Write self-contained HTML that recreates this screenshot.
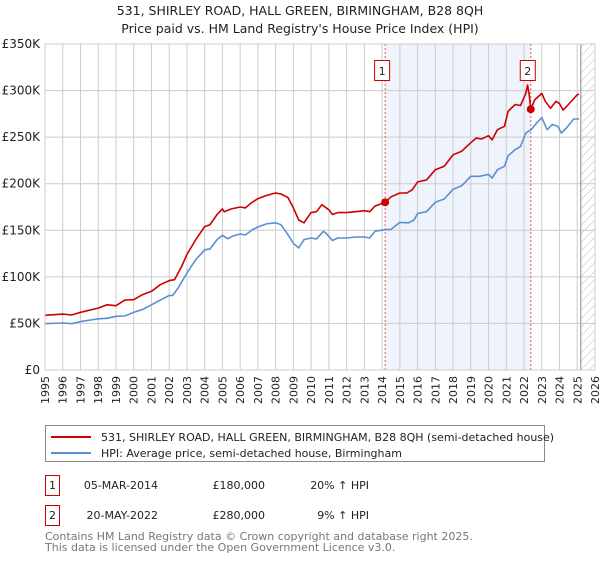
<!DOCTYPE html>
<html><head><meta charset="utf-8"><style>
body{margin:0;background:#fff;font-family:"Liberation Sans","DejaVu Sans",sans-serif;}
svg text{font-family:"DejaVu Sans","Liberation Sans",sans-serif;}
</style></head><body>
<svg id="chart" width="600" height="560" xmlns="http://www.w3.org/2000/svg">
<defs><pattern id="hatch" width="6" height="6" patternUnits="userSpaceOnUse" patternTransform="rotate(45)"><line x1="0" y1="0" x2="0" y2="6" stroke="#bbb" stroke-width="1"/></pattern></defs>
<text x="300" y="15" text-anchor="middle" font-size="12.5" fill="#222">531, SHIRLEY ROAD, HALL GREEN, BIRMINGHAM, B28 8QH</text>
<text x="300" y="33" text-anchor="middle" font-size="12.5" fill="#222">Price paid vs. HM Land Registry's House Price Index (HPI)</text>
<g id="plot"></g>
<g>
<rect x="45.5" y="425.5" width="499" height="36" fill="#fff" stroke="#888"/>
<line x1="51" y1="437" x2="91" y2="437" stroke="#cc0000" stroke-width="2"/>
<text x="101" y="441" font-size="11" fill="#222">531, SHIRLEY ROAD, HALL GREEN, BIRMINGHAM, B28 8QH (semi-detached house)</text>
<line x1="51" y1="453" x2="91" y2="453" stroke="#5b8fd4" stroke-width="2"/>
<text x="101" y="457" font-size="11" fill="#222">HPI: Average price, semi-detached house, Birmingham</text>
</g>
<g font-size="11" fill="#222">
<rect x="45.5" y="475.5" width="14" height="20" fill="#fff" stroke="#cc0000"/>
<text x="52.5" y="489" text-anchor="middle">1</text>
<text x="158" y="489" text-anchor="end">05-MAR-2014</text>
<text x="265" y="489" text-anchor="end">£180,000</text>
<text x="369" y="489" text-anchor="end">20% ↑ HPI</text>
</g>
<g font-size="11" fill="#222">
<rect x="45.5" y="505.5" width="14" height="20" fill="#fff" stroke="#cc0000"/>
<text x="52.5" y="519" text-anchor="middle">2</text>
<text x="158" y="519" text-anchor="end">20-MAY-2022</text>
<text x="265" y="519" text-anchor="end">£280,000</text>
<text x="369" y="519" text-anchor="end">9% ↑ HPI</text>
</g>
<text x="45" y="540" font-size="11" fill="#777">Contains HM Land Registry data © Crown copyright and database right 2025.</text>
<text x="45" y="551" font-size="11" fill="#777">This data is licensed under the Open Government Licence v3.0.</text>
</svg>
<script>
const yTicks=[0,50,100,150,200,250,300,350];
const yTickLabels=["£0","£50K","£100K","£150K","£200K","£250K","£300K","£350K"];
const xYears=[1995,1996,1997,1998,1999,2000,2001,2002,2003,2004,2005,2006,2007,2008,2009,2010,2011,2012,2013,2014,2015,2016,2017,2018,2019,2020,2021,2022,2023,2024,2025,2026];
const propT=[1995,1996,1996.5,1997,1998,1998.5,1999,1999.5,2000,2000.5,2001,2001.5,2002,2002.3,2002.7,2003,2003.5,2004,2004.3,2004.7,2005,2005.1,2005.5,2006,2006.3,2006.6,2007,2007.5,2008,2008.3,2008.7,2009,2009.3,2009.6,2010,2010.3,2010.6,2011,2011.2,2011.5,2012,2012.5,2013,2013.3,2013.6,2014.17,2014.5,2015,2015.4,2015.7,2016,2016.5,2017,2017.5,2018,2018.5,2019,2019.3,2019.6,2020,2020.2,2020.5,2020.9,2021.1,2021.5,2021.8,2022.1,2022.2,2022.3,2022.38,2022.6,2023,2023.2,2023.5,2023.8,2024,2024.2,2024.5,2025,2025.1];
const propV=[58.7,60,59,62,66.5,70,69,75,75.5,81,84.5,91.6,96,97,111,124,140,154,156,167,173,170,173,175,174,179,184,187.5,190,189,185,174,161,158,169,170,177.5,172,167,169,169,170,171,170,176,180,186,190,190,193.6,202,204,215,218.7,231,235,244,249,248,251.6,247,258,261.6,277.7,285,284,297,306,294,280,290,297,288.5,281,288.5,286,279,285,295.6,296];
const hpiT=[1995,1996,1996.5,1997,1998,1998.5,1999,1999.5,2000,2000.5,2001,2001.5,2002,2002.2,2002.5,2003,2003.5,2004,2004.3,2004.7,2005,2005.3,2005.6,2006,2006.3,2006.7,2007,2007.5,2008,2008.3,2008.7,2009,2009.3,2009.6,2010,2010.3,2010.7,2011,2011.2,2011.5,2012,2012.5,2013,2013.3,2013.6,2014.2,2014.5,2015,2015.5,2015.8,2016,2016.5,2017,2017.5,2018,2018.5,2019,2019.5,2020,2020.2,2020.5,2020.9,2021.1,2021.5,2021.8,2022.1,2022.4,2022.7,2023,2023.3,2023.6,2023.9,2024.1,2024.4,2024.8,2025.1];
const hpiV=[49.7,50.5,49.7,52,55,55.5,57.6,58,62,65,70,75,80,80,88,104,118.5,129,130,140,144.6,141,144,146,145,150.7,153.5,157,158,156,145,136,131,140,141.7,140.7,149,143.5,139,141.7,141.7,142.8,142.8,141.7,149,150.7,151,158.5,158,161,168,170,180,183.6,194,198,208,208,210,206,215,218.7,230,236.6,240,254.5,258,265,271,258,263.6,261.6,254.5,260,269.5,269.5];
const saleT=[2014.17,2022.38];
const saleV=[180,280];
const saleLabels=["1","2"];
const x0=45,x1=595,y0=370,y1=44;
const X=t=>x0+(t-1995)*(x1-x0)/31;
const Y=v=>y0-v*(y0-y1)/350;
const NS="http://www.w3.org/2000/svg";
const g=document.getElementById('plot');
function mk(tag,attrs,parent){const e=document.createElementNS(NS,tag);for(const k in attrs)e.setAttribute(k,attrs[k]);(parent||g).appendChild(e);return e;}
let e;
e=mk('rect',{x:X(saleT[0]),y:y1,width:X(saleT[1])-X(saleT[0]),height:y0-y1,fill:'#eef3fc'});


e=mk('rect',{x:X(2025.2),y:y1,width:x1-X(2025.2),height:y0-y1,fill:'url(#hatch)'});


xYears.forEach(yr=>{const l=mk('line',{x1:X(yr),x2:X(yr),y1:y1,y2:y0,stroke:'#ccc','stroke-width':1});


const t=mk('text',{x:0,y:0,transform:`translate(${X(yr)+4},${y0+6}) rotate(-90)`,'text-anchor':'end','font-size':11,fill:'#222'});


t.textContent=yr;});
yTicks.forEach((v,i)=>{const l=mk('line',{x1:x0,x2:x1,y1:Y(v),y2:Y(v),stroke:'#ccc','stroke-width':1});


const t=mk('text',{x:x0-5,y:Y(v)+4,'text-anchor':'end','font-size':12,fill:'#222'});


t.textContent=yTickLabels[i];});
e=mk('line',{x1:X(2025.2),x2:X(2025.2),y1:y1,y2:y0,stroke:'#888','stroke-width':1});


saleT.forEach((t,i)=>{const l=mk('line',{x1:X(t),x2:X(t),y1:y1,y2:y0,stroke:'#e55','stroke-width':1,'stroke-dasharray':'2,2'});

});
function path(T,V,col,name){const d=T.map((t,i)=>(i?'L':'M')+X(t).toFixed(1)+','+Y(V[i]).toFixed(1)).join('');
const p=mk('path',{d:d,fill:'none',stroke:col,'stroke-width':1.6,'stroke-linejoin':'round'});

}
path(hpiT,hpiV,'#5b8fd4','hpi-line');
path(propT,propV,'#cc0000','property-price-line');
saleT.forEach((t,i)=>{const c=mk('circle',{cx:X(t),cy:Y(saleV[i]),r:4,fill:'#cc0000'});


const r=mk('rect',{x:X(t)-10.5,y:60.5,width:15,height:20,fill:'#fff',stroke:'#cc0000'});


const tx=mk('text',{x:X(t)-3,y:75,'text-anchor':'middle','font-size':11,fill:'#222'});


tx.textContent=saleLabels[i];});
e=mk('rect',{x:x0,y:y1,width:x1-x0,height:y0-y1,fill:'none',stroke:'#ccc'});


</script>
</body></html>
